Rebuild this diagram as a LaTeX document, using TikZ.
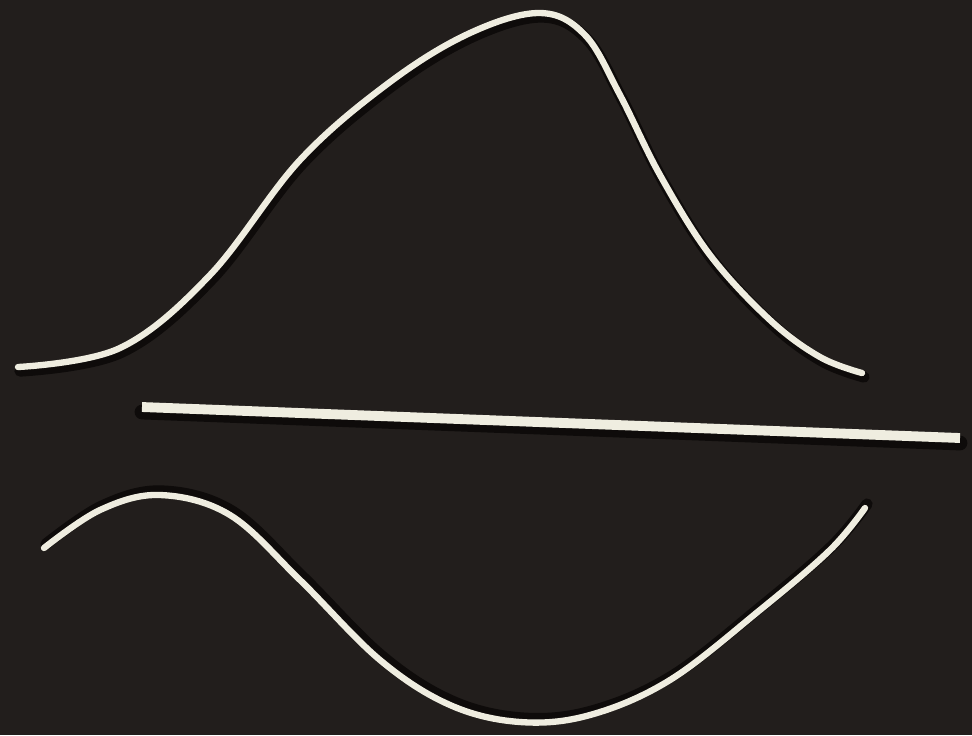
\documentclass[tikz,border=0pt]{standalone}
\usetikzlibrary{calc}

\definecolor{boardColour}{HTML}{221E1C}
\definecolor{chalkColour}{HTML}{EFEDE0}
\definecolor{shadowColour}{HTML}{0E0B0A}

\tikzset{
    chalk/.style={draw=chalkColour, line width=1.8pt, line cap=round, line join=round},
    shadow/.style={draw=shadowColour, line width=3.2pt, line cap=round, line join=round},
}

\begin{document}
\begin{tikzpicture}[x=0.01cm, y=-0.01cm]

    % Background board
    \fill[boardColour] (0,0) rectangle (972,735);
    \useasboundingbox (0,0) rectangle (972,735);

    % Define the end points of the rod
    \coordinate (rodStart) at (142,407);
    \coordinate (rodEnd) at (960,438);

    % Upper curve
    \draw[shadow, shift={(2,4)}] plot[smooth, tension=0.6] coordinates {(18,367) (120,348) (210,275) (300,160) (390,82) (470,33) (540,13) (585,35) (620,95) (660,175) (710,255) (770,320) (820,357) (862,373)};
    \draw[chalk] plot[smooth, tension=0.6] coordinates {(18,367) (120,348) (210,275) (300,160) (390,82) (470,33) (540,13) (585,35) (620,95) (660,175) (710,255) (770,320) (820,357) (862,373)};

    % Middle rod
    \draw[shadowColour, line width=4.2pt, line cap=round] ($(rodStart)+(0,5)$) -- ($(rodEnd)+(0,5)$);
    \draw[chalkColour, line width=2.8pt] (rodStart) -- (rodEnd);

    % Lower curve
    \draw[shadow, shift={(2,-4)}] plot[smooth, tension=0.6] coordinates {(44,548) (100,510) (160,495) (230,515) (300,580) (380,660) (450,705) (520,722) (590,715) (670,680) (760,610) (830,550) (865,508)};
    \draw[chalk] plot[smooth, tension=0.6] coordinates {(44,548) (100,510) (160,495) (230,515) (300,580) (380,660) (450,705) (520,722) (590,715) (670,680) (760,610) (830,550) (865,508)};

\end{tikzpicture}
\end{document}
